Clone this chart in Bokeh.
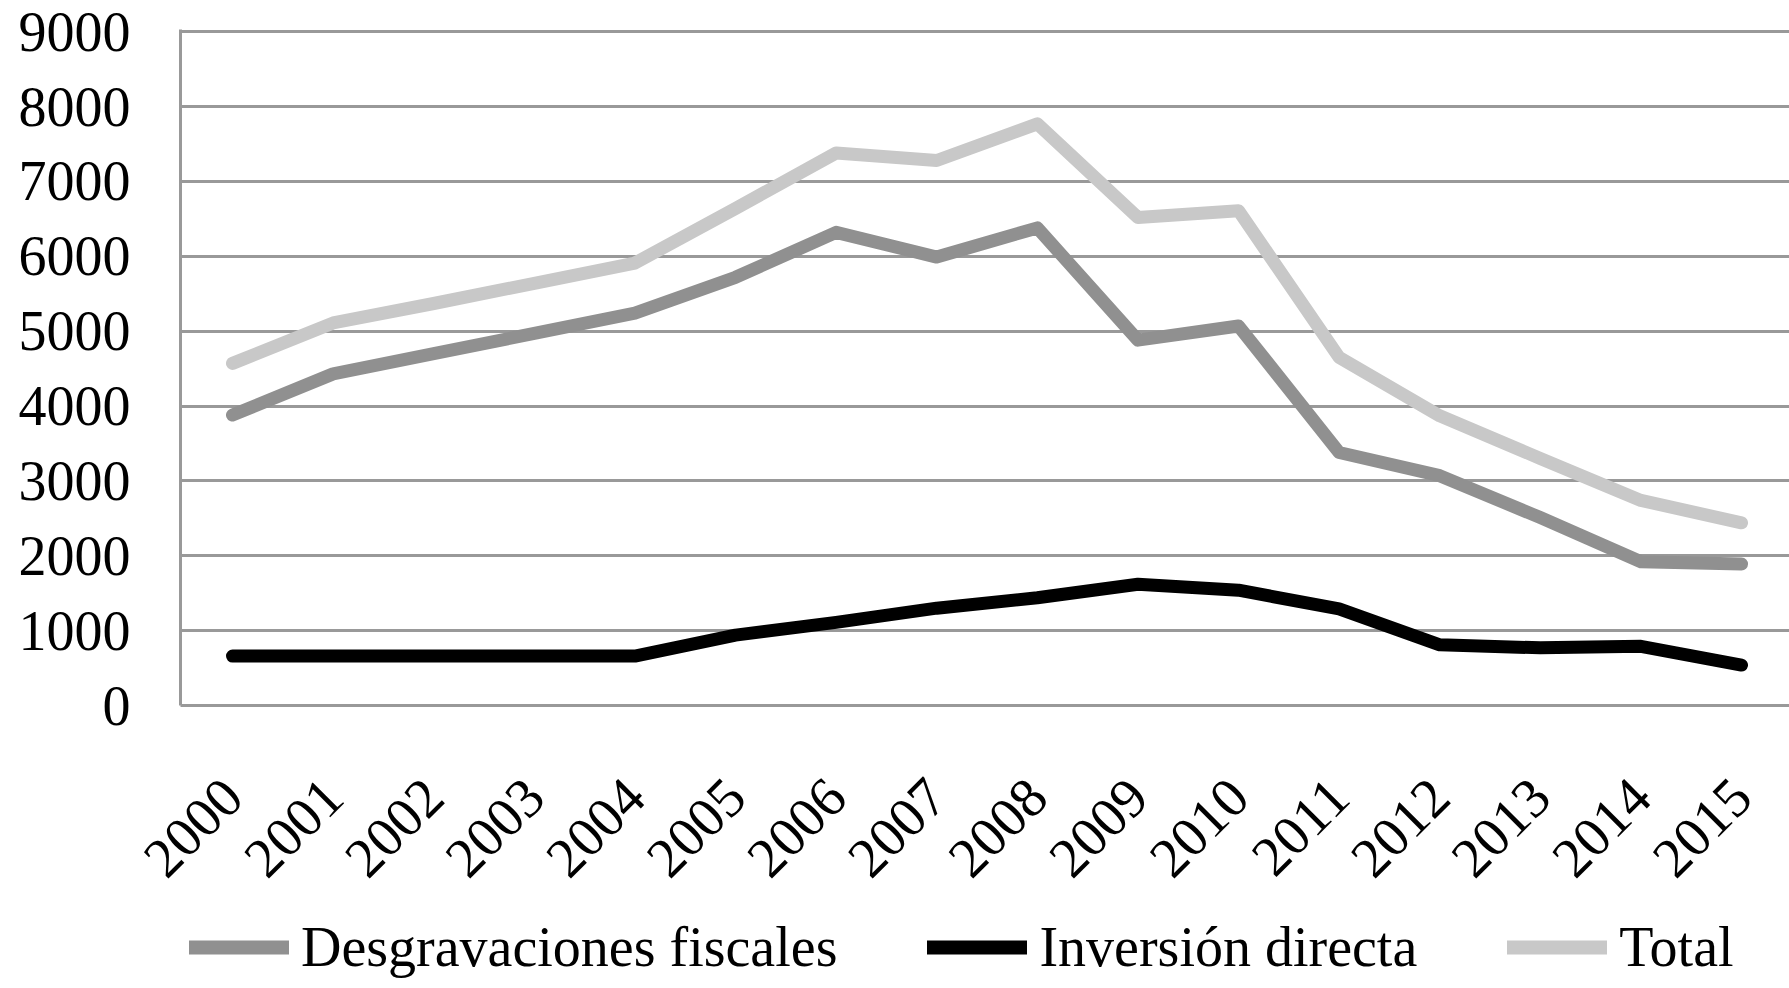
from math import pi
from bokeh.plotting import figure
from bokeh.layouts import column
from bokeh.models import Range1d, Legend, LegendItem, FixedTicker, ColumnDataSource
from bokeh.embed import file_html
from bokeh.resources import INLINE

years = list(range(2000, 2016))
desgravaciones = [3880, 4430, 4700, 4970, 5240, 5720, 6320, 5990, 6380, 4880, 5070, 3380, 3070, 2510, 1920, 1890]
inversion = [660, 660, 660, 660, 660, 940, 1110, 1300, 1440, 1620, 1540, 1290, 810, 770, 790, 540]
total = [4570, 5110, 5370, 5640, 5910, 6640, 7380, 7280, 7770, 6520, 6610, 4650, 3870, 3300, 2740, 2440]
y_ticks = list(range(0, 9001, 1000))

names = ["Desgravaciones fiscales", "Inversión directa", "Total"]
colors = ["#909090", "#000000", "#c8c8c8"]

src = ColumnDataSource(dict(x=years, d=desgravaciones, i=inversion, t=total))
cols = ["d", "i", "t"]

FONT = "Liberation Serif"

# ---- main chart ----
p = figure(width=1789, height=900, output_backend="svg", toolbar_location=None,
           x_range=Range1d(1999.483, 2015.477), y_range=Range1d(0, 9030),
           min_border_left=180, min_border_right=0, min_border_top=29, min_border_bottom=195)
p.outline_line_color = None
p.background_fill_color = "white"
p.border_fill_color = "white"

p.xgrid.visible = False
p.ygrid.grid_line_color = "#999999"
p.ygrid.grid_line_width = 3
p.ygrid.ticker = FixedTicker(ticks=y_ticks)

for ax in (p.xaxis[0], p.yaxis[0]):
    ax.axis_line_color = "#999999"
    ax.axis_line_width = 3
    ax.major_tick_line_color = None
    ax.minor_tick_line_color = None
    ax.major_tick_in = 0
    ax.major_tick_out = 0
    ax.minor_tick_in = 0
    ax.minor_tick_out = 0
    ax.major_label_text_font = FONT
    ax.major_label_text_font_size = "56px"
    ax.major_label_text_color = "#000000"

p.yaxis.ticker = FixedTicker(ticks=y_ticks)
p.yaxis.major_label_standoff = 50
p.xaxis.ticker = FixedTicker(ticks=years)
p.xaxis.major_label_orientation = pi / 4
p.xaxis.major_label_standoff = 82

for c, col in zip(cols, colors):
    p.line("x", c, source=src, line_color=col, line_width=13, line_cap="round", line_join="round")

# ---- legend strip (same series, drawn out of view; only the legend shows) ----
lg = figure(width=1789, height=88, output_backend="svg", toolbar_location=None,
            x_range=Range1d(0, 1), y_range=Range1d(0, 1),
            x_axis_location=None, y_axis_location=None,
            min_border_left=0, min_border_right=0, min_border_top=0, min_border_bottom=0)
lg.outline_line_color = None
lg.grid.visible = False
lg.background_fill_color = "white"
lg.border_fill_color = "white"

items = []
for name, c, col in zip(names, cols, colors):
    r = lg.line("x", c, source=src, line_color=col, line_width=14, line_cap="round", line_join="round")
    items.append(LegendItem(label=name, renderers=[r]))

legend = Legend(items=items, orientation="horizontal", location=(9, 9),
                label_text_font=FONT, label_text_font_size="56px", label_text_color="#000000",
                glyph_width=100, glyph_height=20, label_standoff=12, spacing=90,
                padding=0, margin=0, border_line_color=None, background_fill_alpha=0)
lg.add_layout(legend)

layout = column(p, lg, spacing=0)
open("out.html", "w").write(file_html(layout, INLINE))
